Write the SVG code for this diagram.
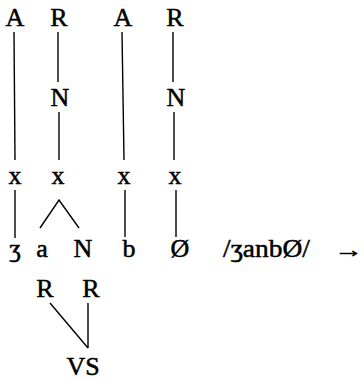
<svg xmlns="http://www.w3.org/2000/svg" width="364" height="381" viewBox="0 0 364 381">
<style>
text{font-family:"Liberation Serif","DejaVu Serif",serif;font-size:26px;fill:#000;stroke:#000;stroke-width:0.5;text-anchor:middle}
.c line,.c polyline{stroke:#000;stroke-width:1.4;fill:none}
</style>
<rect width="364" height="381" fill="#fff"/>
<g class="c" id="connectors">
<line x1="14" y1="32" x2="15" y2="160"/>
<line x1="58" y1="32" x2="58" y2="82"/>
<line x1="59" y1="112" x2="59" y2="160"/>
<line x1="122" y1="32" x2="124" y2="160"/>
<line x1="173" y1="32" x2="173" y2="82"/>
<line x1="174" y1="112" x2="174" y2="160"/>
<line x1="15" y1="190" x2="15" y2="238"/>
<polyline points="40,228 59,200 79,228"/>
<line x1="125" y1="190" x2="125" y2="237"/>
<line x1="176" y1="190" x2="176" y2="237"/>
<line x1="50" y1="303" x2="88" y2="348"/>
<line x1="88" y1="303" x2="88" y2="348"/>
</g>
<g id="A1"><text x="15" y="26">A</text></g>
<g id="R1"><text x="59" y="26">R</text></g>
<g id="A2"><text x="123" y="26">A</text></g>
<g id="R2"><text x="175" y="26">R</text></g>
<g id="N1"><text x="60" y="106">N</text></g>
<g id="N2"><text x="176" y="106">N</text></g>
<g id="x1"><text x="15" y="184">x</text></g>
<g id="x2"><text x="58" y="184">x</text></g>
<g id="x3"><text x="124" y="184">x</text></g>
<g id="x4"><text x="175" y="184">x</text></g>
<g id="s1"><text x="15" y="257">ʒ</text></g>
<g id="s2"><text x="42" y="257">a</text></g>
<g id="s3"><text x="83" y="257">N</text></g>
<g id="s4"><text x="129" y="257">b</text></g>
<g id="s5"><text x="180" y="257">Ø</text></g>
<g id="form"><text x="223" y="257" style="text-anchor:start" textLength="87" lengthAdjust="spacingAndGlyphs">/ʒanbØ/</text></g>
<g id="arrow"><text transform="translate(363,257) scale(1.3,1)" style="text-anchor:end;font-size:22px">→</text></g>
<g id="R3"><text x="45" y="297">R</text></g>
<g id="R4"><text x="91" y="297">R</text></g>
<g id="VS"><text x="83" y="375">VS</text></g>
</svg>
